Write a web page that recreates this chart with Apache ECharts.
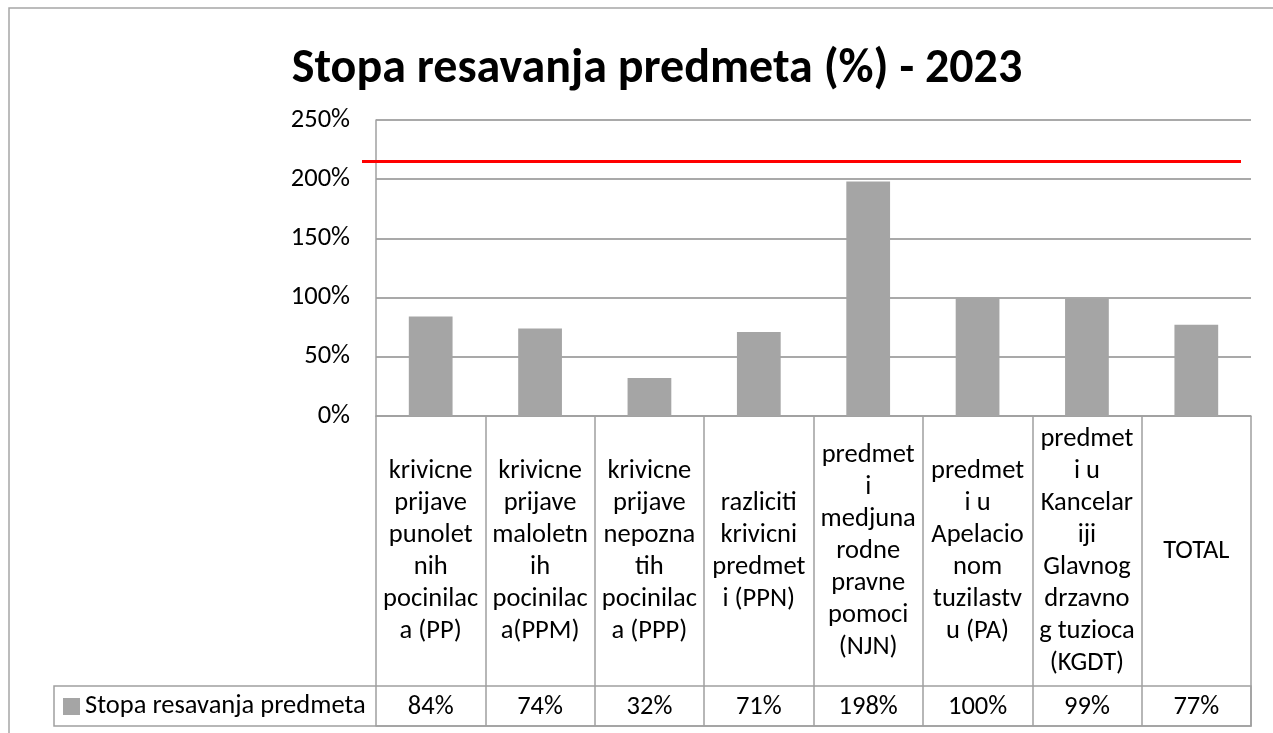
<!DOCTYPE html>
<html>
<head>
<meta charset="utf-8">
<script src="https://cdn.jsdelivr.net/npm/echarts@6/dist/echarts.min.js"></script>
<style>
html,body{margin:0;padding:0;background:#fff;}
#chart{width:1273px;height:733px;}
</style>
</head>
<body>
<div id="chart"></div>
<script>
// ---- data ----
const titleText = 'Stopa resavanja predmeta (%) - 2023';
const seriesName = 'Stopa resavanja predmeta';
const categories = [
  'krivicne\nprijave\npunolet\nnih\npocinilac\na (PP)',
  'krivicne\nprijave\nmaloletn\nih\npocinilac\na(PPM)',
  'krivicne\nprijave\nnepozna\ntih\npocinilac\na (PPP)',
  'razliciti\nkrivicni\npredmet\ni (PPN)',
  'predmet\ni\nmedjuna\nrodne\npravne\npomoci\n(NJN)',
  'predmet\ni u\nApelacio\nnom\ntuzilastv\nu (PA)',
  'predmet\ni u\nKancelar\niji\nGlavnog\ndrzavno\ng tuzioca\n(KGDT)',
  'TOTAL'
];
const values = [0.84, 0.74, 0.32, 0.71, 1.98, 1.00, 0.99, 0.77];
const yTicks = [0, 0.5, 1.0, 1.5, 2.0, 2.5];
const referenceLevel = 2.15;

const FONT = "Carlito, Lato, 'Open Sans', sans-serif";
const FS = 26.5;
const GRAY = '#a0a0a0';
const pct = v => Math.round(v * 100) + '%';

const chart = echarts.init(document.getElementById('chart'));
const option = {
  animation: false,
  backgroundColor: '#fff',
  textStyle: { fontFamily: FONT, color: '#000' },
  title: {
    text: titleText,
    left: 652, top: 41, textAlign: 'center',
    textStyle: { fontFamily: FONT, fontSize: 48, fontWeight: 'bold', color: '#000' }
  },
  legend: {
    left: 63, top: 693, padding: 0,
    itemWidth: 17, itemHeight: 17, itemGap: 6,
    icon: 'rect',
    textStyle: { fontFamily: FONT, fontSize: FS, color: '#000' },
    data: [seriesName]
  },
  grid: { left: 376, right: 22, top: 120, bottom: 317, containLabel: false },
  xAxis: [
    {
      type: 'category', data: categories,
      axisLine: { show: true, lineStyle: { color: GRAY, width: 1.5 } },
      axisTick: { show: true, interval: 0, length: 310, lineStyle: { color: GRAY, width: 1.5 } },
      axisLabel: {
        interval: 0, margin: 135, verticalAlign: 'middle', lineHeight: 32,
        fontFamily: FONT, fontSize: FS, color: '#000', align: 'center'
      },
      splitLine: { show: false }
    },
    {
      type: 'category', data: values.map(pct), position: 'bottom', offset: 310,
      axisLine: { show: true, lineStyle: { color: GRAY, width: 1.5 } },
      axisTick: { show: false },
      axisLabel: {
        inside: true, interval: 0, margin: 19, verticalAlign: 'middle',
        fontFamily: FONT, fontSize: FS, color: '#000'
      }
    }
  ],
  yAxis: {
    type: 'value', min: 0, max: 2.5, interval: 0.5,
    axisLine: { show: true, lineStyle: { color: GRAY, width: 1.5 } },
    axisTick: { show: false },
    axisLabel: { margin: 26, fontFamily: FONT, fontSize: FS, color: '#000', formatter: v => pct(v) },
    splitLine: { show: true, lineStyle: { color: '#8c8c8c', width: 1.5 } }
  },
  series: [{
    name: seriesName, type: 'bar', data: values, xAxisIndex: 0,
    barWidth: '40%', itemStyle: { color: '#a5a5a5' }, silent: true
  }],
  graphic: []
};
chart.setOption(option);

const yRef = chart.convertToPixel({ yAxisIndex: 0 }, referenceLevel);
chart.setOption({
  graphic: [
    { type: 'rect', shape: { x: 9, y: 8, width: 1400, height: 900 }, style: { fill: 'none', stroke: '#a6a6a6', lineWidth: 1.5 }, silent: true, z: -1 },
    { type: 'rect', shape: { x: 54, y: 686, width: 1197, height: 40 }, style: { fill: 'none', stroke: GRAY, lineWidth: 1.5 }, silent: true },
    { type: 'line', shape: { x1: 362, y1: yRef, x2: 1241, y2: yRef }, style: { stroke: '#ff0000', lineWidth: 3 }, silent: true, z: 10 }
  ]
});
</script>
</body>
</html>
